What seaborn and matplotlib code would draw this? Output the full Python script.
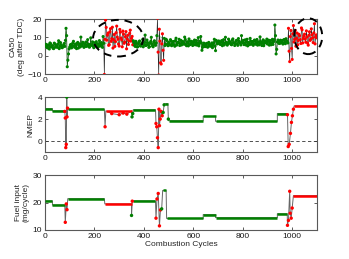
import numpy as np
import pandas as pd
import matplotlib
matplotlib.use("Agg")
import matplotlib.pyplot as plt
from matplotlib.patches import Ellipse
import seaborn as sns

# ---- data ----
GREEN = "#008000"
RED = "#ff0000"

# CA50 sampled at whole cycles 0, 5, 10, ...
ca50_cycles_a = np.arange(0, 1101, 5)
ca50_values_a = [
    5.2, 6.1, 4.3, 5.8, 7.0, 4.9, 5.5, 3.9, 6.4, 5.0,
    4.6, 8.2, 5.3, 6.0, 4.4, 5.7, 5.1, 15.0, -6.0, 1.0,
    4.8, 6.2, 5.5, 7.9, 4.6, 5.9, 6.8, 4.2, 6.5, 10.2,
    5.4, 6.9, 5.0, 7.5, 5.8, 6.3, 4.7, 9.8, 6.0, 5.2,
    7.1, 5.5, 6.6, 4.9, 8.3, 6.2, 5.7, 10.5, -10.2, 19.5,
    8.5, 12.4, 6.1, 14.8, 9.3, 4.2, 11.6, 7.8, 16.2, 9.0,
    5.3, 12.9, 8.7, 13.5, 6.8, 10.4, 3.8, 11.2, 8.1, 14.0,
    9.5, 6.0, 7.2, 5.1, 6.8, 4.9, 7.6, 5.5, 6.3, 8.9,
    6.0, 11.3, 5.8, 7.2, 4.6, 6.9, 10.1, 5.4, 7.5, 6.2,
    7.0, 20.5, -10.5, 8.0, -4.5, 12.0, -2.5, 5.6, 9.0, 6.2,
    7.4, 5.9, 8.1, 6.5, 7.8, 5.2, 9.6, 6.8, 7.1, 5.6,
    8.4, 6.9, 7.3, 10.2, 6.1, 7.7, 5.4, 8.0, 6.6, 7.5,
    6.2, 8.6, 7.0, 5.8, 9.9, 6.7, 10.5, 3.0, 5.9, 6.3,
    5.5, 6.8, 4.9, 6.1, 5.2, 7.0, 5.7, 9.0, 2.8, 7.6,
    6.9, 7.8, 6.2, 8.3, 7.0, 5.9, 10.1, 7.2, 6.6, 8.0,
    7.4, 6.0, 9.2, 7.1, 6.5, 8.4, 5.7, 7.9, 6.8, 11.0,
    7.2, 6.1, 8.7, 7.5, 5.4, 7.0, 9.5, 6.3, 7.8, 6.6,
    8.2, 7.0, 5.8, 7.6, 10.3, 6.9, 7.3, 5.5, 8.0, 7.1,
    6.4, 8.5, 7.2, 6.0, 9.0, 7.7, 16.8, 1.0, 7.5, 8.0,
    6.8, 7.6, 8.4, 6.9, 7.2, 9.3, 7.8, 15.0, -3.2, 13.8,
    -2.0, 16.5, 9.0, 5.2, 12.4, 8.3, 10.9, 6.7, 14.2, 9.5,
    11.8, 7.4, 10.2, 5.8, 13.1, 9.0, 11.5, 7.2, 17.5, 10.3,
    9.8,
]
# CA50 at the in-between cycles 2.5, 7.5, ...
ca50_cycles_b = np.arange(2.5, 1100, 5)
ca50_values_b = [
    6.3, 4.8, 5.9, 3.7, 6.6, 5.4, 4.1, 6.9, 4.7, 5.8,
    6.5, 3.9, 7.2, 4.5, 5.1, 6.7, 8.4, 11.0, -2.4, 3.8,
    5.9, 4.3, 7.0, 5.2, 6.4, 3.9, 7.3, 5.6, 4.8, 6.1,
    7.4, 4.6, 6.3, 5.1, 8.8, 4.9, 6.2, 5.7, 7.6, 4.4,
    5.9, 7.7, 4.8, 6.5, 5.3, 7.2, 4.6, 6.8, 9.0, 15.5,
    11.3, 5.7, 13.1, 7.9, 15.6, 8.8, 5.1, 12.6, 10.2, 6.4,
    14.4, 9.7, 4.9, 11.8, 7.5, 13.2, 9.1, 6.2, 12.3, 8.0,
    10.6, 8.2, 5.6, 7.9, 4.8, 6.6, 8.1, 5.3, 7.0, 4.9,
    7.3, 5.6, 8.6, 6.1, 5.0, 7.8, 6.4, 4.9, 8.2, 5.7,
    11.0, 2.0, 14.5, -3.8, 6.5, 3.0, 9.5, 6.3, 8.4, 5.5,
    6.3, 8.8, 5.5, 7.6, 6.0, 8.3, 5.8, 7.4, 9.0, 6.4,
    5.9, 7.8, 6.3, 8.9, 5.5, 7.0, 9.2, 6.1, 7.9, 5.6,
    7.7, 6.0, 8.3, 6.8, 5.4, 8.0, 7.1, 4.6, 6.9, 5.0,
    6.6, 4.7, 7.3, 5.6, 6.2, 4.4, 7.1, 5.3, 8.4, 6.5,
    8.1, 6.4, 7.6, 5.5, 8.8, 6.7, 7.3, 5.8, 9.1, 6.9,
    6.2, 8.5, 7.0, 5.6, 8.1, 6.6, 9.4, 7.2, 5.9, 7.7,
    8.4, 6.8, 5.9, 9.0, 7.3, 6.1, 8.0, 7.5, 5.7, 8.6,
    6.3, 8.9, 7.4, 6.0, 7.8, 5.6, 8.7, 6.8, 7.5, 9.1,
    7.9, 5.8, 8.3, 7.0, 6.2, 8.8, 11.0, 3.5, 8.6, 6.7,
    8.5, 7.1, 6.4, 8.9, 6.6, 8.1, 7.0, 2.5, 10.5, 4.0,
    12.0, 7.5, 13.8, 9.6, 6.0, 11.7, 8.8, 15.2, 7.0, 10.8,
    9.1, 13.6, 6.9, 11.2, 8.4, 14.7, 9.8, 12.5, 6.5, 11.4,
]
ca50_red_ranges = [(240, 356), (455, 481), (985, 1100)]

# plateaus: (start, end, value, colour)
nmep_plateaus = [
    (0, 30, 2.95, "g"), (30, 79, 2.75, "g"), (92, 240, 2.9, "g"),
    (246, 350, 2.75, "r"), (357, 447, 2.85, "g"), (485, 497, 3.4, "g"),
    (500, 640, 1.85, "g"), (640, 690, 2.25, "g"), (690, 940, 1.8, "g"),
    (940, 980, 2.5, "g"), (1008, 1100, 3.2, "r"),
]
# transient cycles: (cycle, value, colour)
nmep_points = [
    (80, 2.7, "r"), (82, 2.1, "r"), (84, -0.6, "r"), (86, -0.3, "r"),
    (88, 4.0, "g"), (89, 2.2, "r"), (91, 3.0, "r"),
    (243, 1.3, "r"), (270, 2.5, "r"), (300, 2.4, "r"), (316, 2.55, "r"), (331, 2.45, "r"),
    (352, 2.2, "g"), (355, 2.5, "g"),
    (449, 1.6, "r"), (452, 1.3, "r"), (455, 0.3, "r"), (458, -0.6, "r"), (461, 2.9, "r"),
    (463, 1.4, "r"), (466, 2.0, "r"), (470, 2.7, "r"), (474, 2.3, "r"),
    (478, 2.6, "g"), (482, 3.3, "g"), (499, 2.0, "g"),
    (981, 2.4, "r"), (984, -0.5, "r"), (988, -0.3, "r"), (993, 0.7, "r"),
    (997, 1.7, "r"), (1001, 2.3, "r"), (1005, 2.9, "r"),
]

fuel_plateaus = [
    (0, 30, 20.6, "g"), (30, 80, 19.1, "g"), (92, 240, 21.4, "g"),
    (242, 350, 19.5, "r"), (357, 447, 20.6, "g"), (476, 490, 24.4, "g"),
    (492, 640, 14.2, "g"), (640, 690, 15.6, "g"), (690, 940, 14.5, "g"),
    (940, 980, 15.9, "g"), (1005, 1100, 22.5, "r"),
]
fuel_points = [
    (82, 12.8, "r"), (86, 19.5, "r"), (89, 17.4, "r"),
    (350, 15.3, "g"), (353, 20.5, "r"),
    (449, 14.3, "r"), (453, 21.3, "r"), (458, 23.3, "r"), (463, 11.5, "r"),
    (467, 17.3, "r"), (472, 17.7, "g"),
    (981, 11.7, "r"), (985, 13.5, "r"), (990, 24.1, "r"), (992, 16.1, "r"),
    (996, 14.3, "r"), (1000, 18.0, "r"),
]

# dashed ellipses marking the unstable regions: (centre cycle, centre CA50, width, height)
ca50_circles = [(296, 9.6, 203, 20.0), (1065, 10.7, 113, 19.6)]

# ---- plotting ----
sns.set_style("ticks")
plt.rcParams["font.family"] = ["Liberation Sans", "DejaVu Sans"]
plt.rcParams["font.size"] = 6
palette = {"g": GREEN, "r": RED}

fig = plt.figure(figsize=(3.49, 2.59), dpi=100)
ax1 = fig.add_axes([0.129, 0.714, 0.779, 0.212])
ax2 = fig.add_axes([0.129, 0.413, 0.779, 0.212])
ax3 = fig.add_axes([0.129, 0.112, 0.779, 0.212])


def style_axis(ax, ylim, yticks):
    ax.set_xlim(0, 1100)
    ax.set_ylim(*ylim)
    ax.set_yticks(yticks)
    ax.set_xticks([0, 200, 400, 600, 800, 1000])
    ax.tick_params(direction="in", length=2.5, width=0.6, labelsize=6, pad=2,
                   top=True, right=True, colors="0.25", labelcolor="0.1")
    for s in ax.spines.values():
        s.set_linewidth(0.8)
        s.set_color("0.35")


# CA50 panel
ca50 = pd.concat([
    pd.DataFrame({"cycle": ca50_cycles_a, "value": ca50_values_a}),
    pd.DataFrame({"cycle": ca50_cycles_b, "value": ca50_values_b}),
]).sort_values("cycle").reset_index(drop=True)
ca50["c"] = "g"
for a, b in ca50_red_ranges:
    ca50.loc[(ca50.cycle >= a) & (ca50.cycle <= b), "c"] = "r"
ca50["green"] = ca50.value.where(ca50.c == "g")
sns.lineplot(data=ca50, x="cycle", y="value", ax=ax1, color="0.15", lw=0.45,
             sort=False, estimator=None)
sns.lineplot(data=ca50, x="cycle", y="green", ax=ax1, color=GREEN, lw=0.45,
             alpha=0.6, sort=False, estimator=None)
sns.scatterplot(data=ca50, x="cycle", y="value", hue="c", palette=palette, ax=ax1,
                s=5, linewidth=0, legend=False, zorder=3)
for cx, cy, w, h in ca50_circles:
    ax1.add_patch(Ellipse((cx, cy), w, h, fill=False, ls=(0, (4, 3)), lw=1.4,
                          color="k", clip_on=False, zorder=5))
style_axis(ax1, (-10, 20), [-10, 0, 10, 20])
ax1.set_xlabel("")
ax1.set_ylabel("CA50\n(deg after TDC)", fontsize=6, labelpad=2)


def step_panel(ax, plateaus, points):
    rows = []
    for a, b, v, c in plateaus:
        rows.append((a, v, c, "p"))
        rows.append((b, v, c, "p"))
    for x, v, c in points:
        rows.append((x, v, c, "t"))
    df = pd.DataFrame(rows, columns=["cycle", "value", "c", "kind"])
    df = df.sort_values("cycle", kind="stable").reset_index(drop=True)
    sns.lineplot(data=df, x="cycle", y="value", ax=ax, color="0.4", lw=0.7,
                 sort=False, estimator=None)
    for a, b, v, c in plateaus:
        ax.hlines(v, a, b, color=palette[c], lw=1.8, zorder=3)
    pts = df[df.kind == "t"]
    sns.scatterplot(data=pts, x="cycle", y="value", hue="c", palette=palette, ax=ax,
                    s=6, linewidth=0, legend=False, zorder=4)
    ax.set_xlabel("")


step_panel(ax2, nmep_plateaus, nmep_points)
ax2.axhline(0, color="0.2", ls=(0, (4, 3)), lw=0.6, zorder=1)
style_axis(ax2, (-1, 4), [0, 2, 4])
ax2.set_ylabel("NMEP", fontsize=6, labelpad=2)

step_panel(ax3, fuel_plateaus, fuel_points)
style_axis(ax3, (10, 30), [10, 20, 30])
ax3.set_ylabel("Fuel input\n(mg/cycle)", fontsize=6, labelpad=2)
ax3.set_xlabel("Combustion Cycles", fontsize=6, labelpad=1)

fig.savefig("out.png", dpi=100)
